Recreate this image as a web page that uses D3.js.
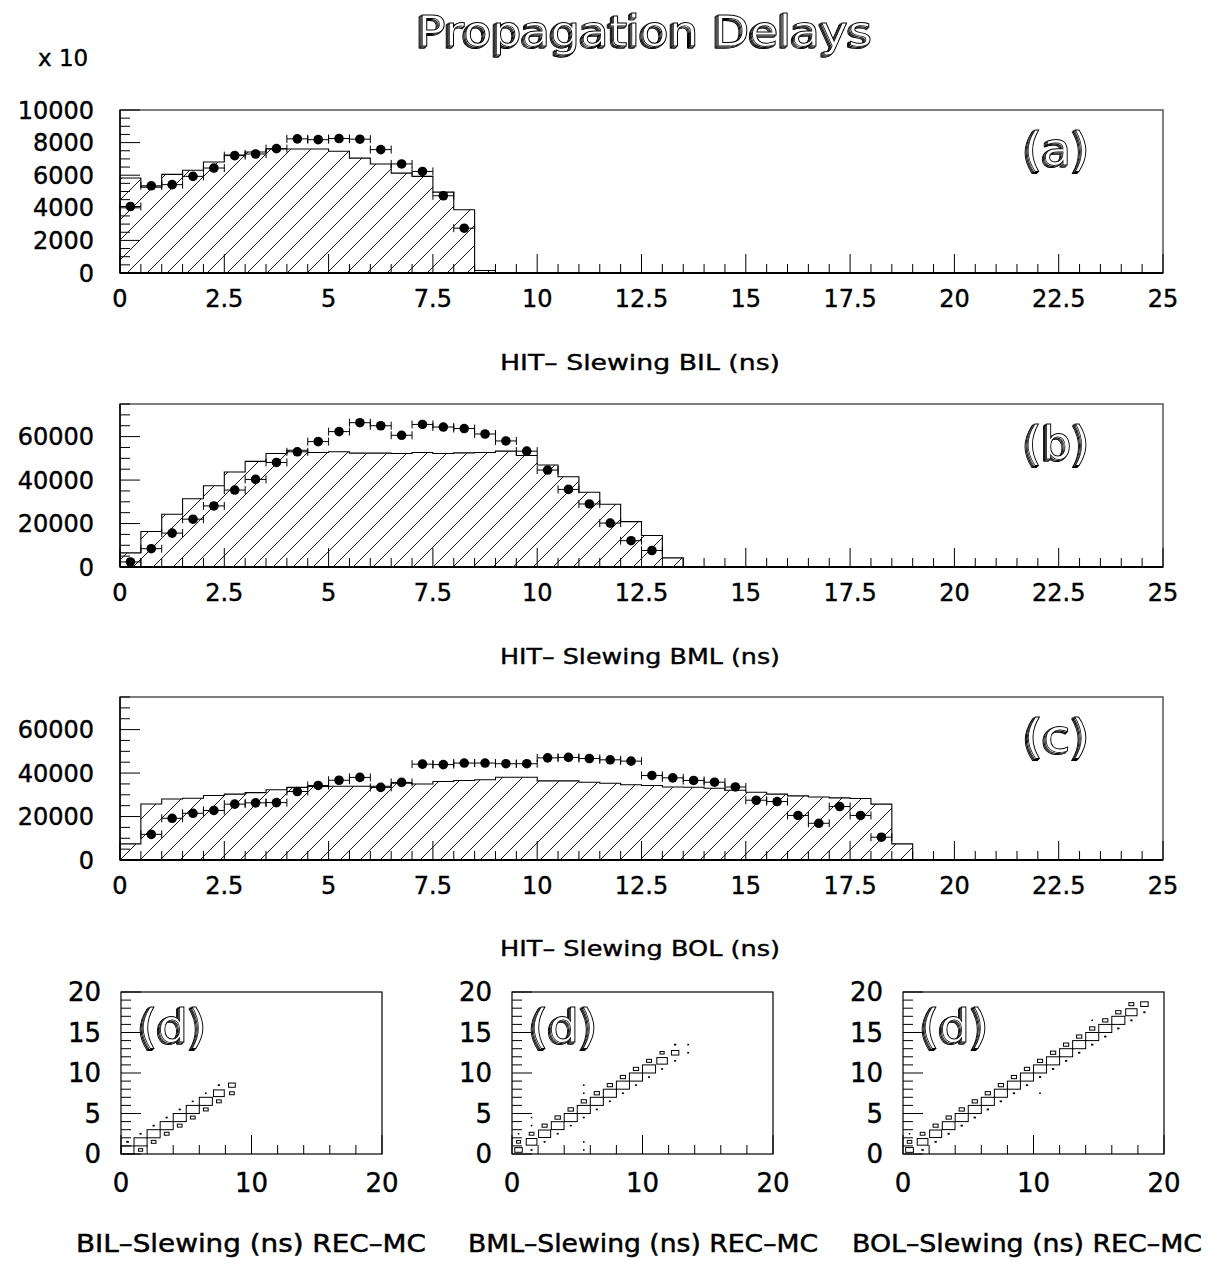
<!DOCTYPE html>
<html>
<head>
<meta charset="utf-8">
<script src="https://cdn.jsdelivr.net/npm/d3@7"></script>
<style>
body { margin: 0; background: #fff; }
svg { display: block; }
</style>
</head>
<body>
<div id="chart"></div>
<script>
const width = 1227;
const height = 1261;

// ---- histogram data, 0.5 ns bins starting at 0 ----
const mcBIL = [5830, 5270, 6050, 6300, 6810, 7240, 7420, 7610, 7610, 7610, 7470, 7050, 6690, 6130, 5930, 4960, 3880, 150];
const dataBIL = [4080, 5350, 5420, 5930, 6440, 7200, 7300, 7630, 8230, 8180, 8250, 8210, 7570, 6690, 6230, 4740, 2750];

const mcBML = [6500, 16300, 24300, 31400, 37400, 43700, 48600, 52200, 53700, 52700, 53000, 52400, 52400, 52200,
    52700, 52200, 52500, 52700, 53300, 51300, 46900, 41500, 34400, 28900, 20900, 14500, 4200];
const dataBML = [2330, 8420, 15600, 22000, 28100, 35400, 40300, 48100, 53000, 57700, 62300, 66400, 65000, 60600,
    65600, 64400, 63700, 61200, 58000, 53300, 44600, 35700, 29000, 20200, 12100, 7600];

const mcBOL = [7400, 25800, 28100, 28400, 29700, 30300, 31000, 32300, 33400, 33800, 33900, 33900, 33900, 35300,
    35000, 36100, 36600, 36900, 38100, 38100, 36400, 36400, 35800, 35300, 34600, 34300, 33600, 33500, 33000,
    32100, 31200, 30300, 29500, 29000, 28600, 28300, 25700, 7400];
const dataBOL = [null, 11800, 19200, 21500, 22800, 25700, 26300, 26400, 31500, 34300, 36700, 38000, 33400, 35700,
    44100, 43900, 44600, 44600, 44300, 44300, 47000, 47200, 46700, 46100, 45500, 38900, 37800, 36600, 35800,
    33600, 27500, 26900, 20500, 16900, 24600, 20500, 10500];

// ---- tick labels ----
const xLabelsTop = ["0", "2.5", "5", "7.5", "10", "12.5", "15", "17.5", "20", "22.5", "25"];
const yLabelsA = ["0", "2000", "4000", "6000", "8000", "10000"];
const yLabelsBC = ["0", "20000", "40000", "60000"];
const xLabelsD = ["0", "10", "20"];
const yLabelsD = ["0", "5", "10", "15", "20"];

// ---- 2D REC vs MC cells: [x bin, y bin, content] (1 ns bins) ----
const cellsBIL = [
    [0, 0, 97], [1, 1, 100], [2, 2, 100], [3, 3, 100], [4, 4, 100], [5, 5, 100], [6, 6, 100], [7, 7, 68], [8, 8, 27],
    [1, 0, 10], [2, 1, 13], [3, 2, 13], [4, 3, 13], [5, 4, 13], [6, 5, 13], [7, 6, 13], [8, 7, 13],
    [0, 1, 1.5], [1, 2, 0.8], [2, 3, 0.8], [3, 4, 0.8], [4, 5, 0.8], [5, 6, 0.6], [6, 7, 0.3], [7, 8, 0.8]
];
const cellsBML = [
    [0, 0, 33], [1, 1, 67], [2, 2, 85], [3, 3, 95], [4, 4, 100], [5, 5, 100], [6, 6, 100], [7, 7, 100],
    [8, 8, 100], [9, 9, 100], [10, 10, 100], [11, 11, 65], [12, 12, 32],
    [0, 1, 10], [1, 2, 13], [2, 3, 15], [3, 4, 17], [4, 5, 17], [5, 6, 16], [6, 7, 16], [7, 8, 16],
    [8, 9, 16], [9, 10, 16], [10, 11, 14], [11, 12, 10], [12, 13, 1],
    [1, 0, 0.6], [2, 1, 0.6], [3, 2, 0.6], [4, 3, 0.6], [5, 4, 0.6], [6, 5, 0.6], [7, 6, 0.6], [8, 7, 0.6],
    [9, 8, 0.6], [10, 9, 0.6], [11, 10, 0.6], [12, 11, 0.6], [13, 12, 0.5], [13, 13, 0.3],
    [5, 8, 0.1], [5, 7, 0.1], [5, 1, 0.1], [5, 0, 0.1], [1, 4, 0.1], [1, 3, 0.1], [0, 2, 0.1]
];
const cellsBOL = [
    [0, 0, 35], [1, 1, 67], [2, 2, 85], [3, 3, 95], [4, 4, 100], [5, 5, 100], [6, 6, 100], [7, 7, 100],
    [8, 8, 100], [9, 9, 100], [10, 10, 100], [11, 11, 100], [12, 12, 100], [13, 13, 100], [14, 14, 100],
    [15, 15, 100], [16, 16, 100], [17, 17, 75], [18, 18, 33],
    [0, 1, 12], [1, 2, 13], [2, 3, 15], [3, 4, 16], [4, 5, 16], [5, 6, 16], [6, 7, 16], [7, 8, 16], [8, 9, 16],
    [9, 10, 16], [10, 11, 15], [11, 12, 16], [12, 13, 16], [13, 14, 16], [14, 15, 16], [15, 16, 16],
    [16, 17, 16], [17, 18, 14],
    [1, 0, 1], [2, 1, 1], [3, 2, 1], [4, 3, 1], [5, 4, 1], [6, 5, 1], [7, 6, 1], [8, 7, 1], [9, 8, 1],
    [10, 9, 1], [11, 10, 1], [12, 11, 1], [13, 12, 1], [14, 13, 1], [15, 14, 1], [16, 15, 1], [17, 16, 1], [18, 17, 1],
    [0, 2, 0.2], [14, 16, 0.2], [10, 7, 0.2]
];

const svg = d3.select("#chart").append("svg")
    .attr("width", width)
    .attr("height", height)
    .style("font-family", "'DejaVu Sans', sans-serif");

svg.append("rect").attr("width", width).attr("height", height).attr("fill", "#fff");

const defs = svg.append("defs");
defs.append("pattern")
    .attr("id", "hatch")
    .attr("patternUnits", "userSpaceOnUse")
    .attr("width", 20).attr("height", 20)
    .append("path")
    .attr("d", "M-5,5L5,-5M0,20L20,0M15,25L25,15")
    .attr("stroke", "#000")
    .attr("stroke-width", 0.9);

// stacked offset copies of the outline give the shaded look of the old plotting font
const shade = defs.append("filter").attr("id", "shade")
    .attr("x", "-10%").attr("y", "-10%").attr("width", "120%").attr("height", "130%");
const offs = [[-3.2, 2.4], [-2.4, 1.8], [-1.6, 1.2], [-0.8, 0.6]];
offs.forEach((o, i) => {
    shade.append("feOffset").attr("in", "SourceGraphic").attr("dx", o[0]).attr("dy", o[1]).attr("result", "o" + i);
});
const merge = shade.append("feMerge");
offs.forEach((o, i) => merge.append("feMergeNode").attr("in", "o" + i));
merge.append("feMergeNode").attr("in", "SourceGraphic");

function shadowText(sel, txt, x, y, size, len) {
    sel.append("text")
        .attr("x", x).attr("y", y)
        .attr("font-size", size).attr("text-anchor", "middle")
        .attr("fill", "#fff").attr("stroke", "#000").attr("stroke-width", 0.9)
        .attr("textLength", len).attr("lengthAdjust", "spacingAndGlyphs")
        .attr("filter", "url(#shade)")
        .text(txt);
}

shadowText(svg, "Propagation Delays", 645, 46, 42, 455);

svg.append("text").attr("x", 38).attr("y", 66).attr("font-size", 23)
    .attr("stroke", "#000").attr("stroke-width", 0.4).text("x 10");

const L = 120, R = 1163, PH = 163;

const topPanels = [
    { mc: mcBIL, data: dataBIL, top: 110, ymax: 10000, yLabels: yLabelsA, yMinor: 500, label: "(a)",
      title: "HIT\u2013 Slewing BIL (ns)", titleY: 370 },
    { mc: mcBML, data: dataBML, top: 404, ymax: 75000, yLabels: yLabelsBC, yMinor: 5000, label: "(b)",
      title: "HIT\u2013 Slewing BML (ns)", titleY: 664 },
    { mc: mcBOL, data: dataBOL, top: 697, ymax: 75000, yLabels: yLabelsBC, yMinor: 5000, label: "(c)",
      title: "HIT\u2013 Slewing BOL (ns)", titleY: 956 }
];

topPanels.forEach(p => {
    const g = svg.append("g");
    const x = d3.scaleLinear().domain([0, 25]).range([L, R]);
    const y = d3.scaleLinear().domain([0, p.ymax]).range([p.top + PH, p.top]);

    // hatched MC histogram
    let d = `M${x(0)},${y(0)}`;
    p.mc.forEach((v, i) => {
        d += `L${x(i * 0.5)},${y(v)}L${x(i * 0.5 + 0.5)},${y(v)}`;
    });
    d += `L${x(p.mc.length * 0.5)},${y(0)}Z`;
    g.append("path").attr("d", d).attr("fill", "url(#hatch)").attr("stroke", "#000").attr("stroke-width", 1.1);

    // frame
    g.append("rect").attr("x", L).attr("y", p.top).attr("width", R - L).attr("height", PH)
        .attr("fill", "none").attr("stroke", "#555").attr("stroke-width", 1.5);
    g.append("line").attr("x1", L).attr("x2", R).attr("y1", y(0)).attr("y2", y(0))
        .attr("stroke", "#000").attr("stroke-width", 2);
    g.append("line").attr("x1", L).attr("x2", L).attr("y1", y(0)).attr("y2", p.top)
        .attr("stroke", "#000").attr("stroke-width", 1.5);

    // x ticks
    d3.range(0, 25.001, 0.5).forEach(t => {
        const major = Math.abs(t / 2.5 - Math.round(t / 2.5)) < 1e-6;
        g.append("line").attr("x1", x(t)).attr("x2", x(t))
            .attr("y1", y(0)).attr("y2", y(0) - (major ? 19 : 9))
            .attr("stroke", "#000").attr("stroke-width", 1);
    });
    xLabelsTop.forEach(s => {
        g.append("text").attr("x", x(+s)).attr("y", y(0) + 34)
            .attr("text-anchor", "middle").attr("font-size", 24)
            .attr("stroke", "#000").attr("stroke-width", 0.4).text(s);
    });

    // y ticks
    const major = +p.yLabels[1];
    d3.range(0, p.ymax + 1, p.yMinor).forEach(t => {
        const isMajor = t % major === 0;
        g.append("line").attr("x1", L).attr("x2", L + (isMajor ? 20 : 10))
            .attr("y1", y(t)).attr("y2", y(t))
            .attr("stroke", "#000").attr("stroke-width", 1);
    });
    p.yLabels.forEach(s => {
        g.append("text").attr("x", 94).attr("y", y(+s)).attr("dy", "0.36em")
            .attr("text-anchor", "end").attr("font-size", 24)
            .attr("stroke", "#000").attr("stroke-width", 0.4).text(s);
    });

    // data points with bin-width error bars
    p.data.forEach((v, i) => {
        if (v == null) return;
        const x0 = x(i * 0.5), x1 = x(i * 0.5 + 0.5), yy = y(v);
        g.append("line").attr("x1", x0).attr("x2", x1).attr("y1", yy).attr("y2", yy)
            .attr("stroke", "#000").attr("stroke-width", 1);
        [x0, x1].forEach(xc => {
            g.append("line").attr("x1", xc).attr("x2", xc).attr("y1", yy - 4).attr("y2", yy + 4)
                .attr("stroke", "#000").attr("stroke-width", 1);
        });
        g.append("circle").attr("cx", (x0 + x1) / 2).attr("cy", yy).attr("r", 4.8).attr("fill", "#000");
    });

    shadowText(g, p.label, 1057, p.top + 55, 46, 66);

    g.append("text").attr("x", 640).attr("y", p.titleY)
        .attr("text-anchor", "middle").attr("font-size", 22)
        .attr("stroke", "#000").attr("stroke-width", 0.4)
        .attr("textLength", 280).attr("lengthAdjust", "spacingAndGlyphs")
        .text(p.title);
});

// ---- lower 2D panels ----
const DT = 992, DH = 162, DW = 261;
const lowerPanels = [
    { cells: cellsBIL, left: 121, title: "BIL\u2013Slewing (ns) REC\u2013MC", tx: 251 },
    { cells: cellsBML, left: 512, title: "BML\u2013Slewing (ns) REC\u2013MC", tx: 643 },
    { cells: cellsBOL, left: 903, title: "BOL\u2013Slewing (ns) REC\u2013MC", tx: 1027 }
];

lowerPanels.forEach(p => {
    const g = svg.append("g");
    const x = d3.scaleLinear().domain([0, 20]).range([p.left, p.left + DW]);
    const y = d3.scaleLinear().domain([0, 20]).range([DT + DH, DT]);
    const vmax = d3.max(p.cells, c => c[2]);
    const bw = x(1) - x(0), bh = y(0) - y(1);

    g.append("rect").attr("x", p.left).attr("y", DT).attr("width", DW).attr("height", DH)
        .attr("fill", "none").attr("stroke", "#000").attr("stroke-width", 1.2);

    d3.range(0, 20.001, 2).forEach(t => {
        g.append("line").attr("x1", x(t)).attr("x2", x(t))
            .attr("y1", y(0)).attr("y2", y(0) - (t % 10 === 0 ? 19 : 9))
            .attr("stroke", "#000").attr("stroke-width", 1);
    });
    d3.range(0, 20.001, 1).forEach(t => {
        g.append("line").attr("x1", x(0)).attr("x2", x(0) + (t % 5 === 0 ? 20 : 10))
            .attr("y1", y(t)).attr("y2", y(t))
            .attr("stroke", "#000").attr("stroke-width", 1);
    });
    xLabelsD.forEach(s => {
        g.append("text").attr("x", x(+s)).attr("y", y(0) + 38)
            .attr("text-anchor", "middle").attr("font-size", 26)
            .attr("stroke", "#000").attr("stroke-width", 0.4).text(s);
    });
    yLabelsD.forEach(s => {
        g.append("text").attr("x", p.left - 20).attr("y", y(+s)).attr("dy", "0.36em")
            .attr("text-anchor", "end").attr("font-size", 26)
            .attr("stroke", "#000").attr("stroke-width", 0.4).text(s);
    });

    p.cells.forEach(c => {
        const f = Math.sqrt(c[2] / vmax);
        const w = Math.max(bw * f, 0.6), h = Math.max(bh * f, 0.6);
        g.append("rect")
            .attr("x", x(c[0] + 0.5) - w / 2).attr("y", y(c[1] + 0.5) - h / 2)
            .attr("width", w).attr("height", h)
            .attr("fill", "none").attr("stroke", "#000").attr("stroke-width", 1);
    });

    shadowText(g, "(d)", p.left + 52, DT + 50, 46, 68);

    g.append("text").attr("x", p.tx).attr("y", 1252)
        .attr("text-anchor", "middle").attr("font-size", 25)
        .attr("stroke", "#000").attr("stroke-width", 0.5)
        .attr("textLength", 350).attr("lengthAdjust", "spacingAndGlyphs")
        .text(p.title);
});
</script>
</body>
</html>
